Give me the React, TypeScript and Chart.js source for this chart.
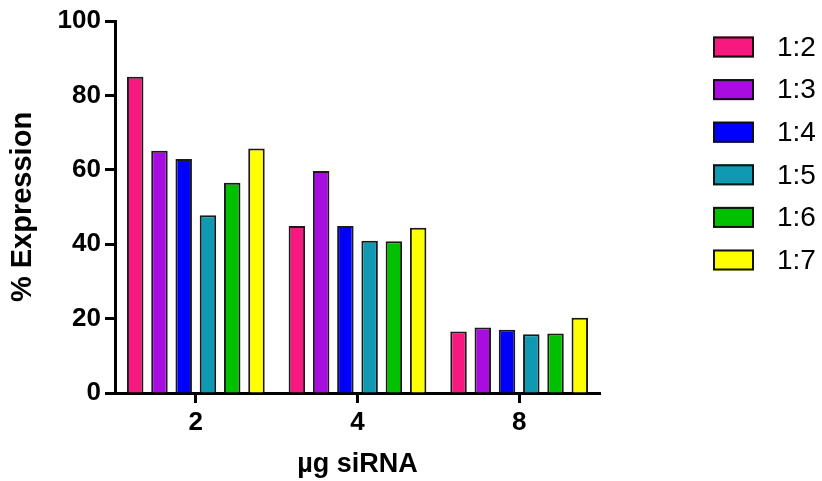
import React, { useEffect, useRef } from "react";
import { Chart, registerables } from "chart.js";

Chart.register(...registerables);

const categories = ["2", "4", "8"];
const seriesLabels = ["1:2", "1:3", "1:4", "1:5", "1:6", "1:7"];
const s12 = [85.0, 44.9, 16.5];
const s13 = [65.1, 59.7, 17.6];
const s14 = [62.9, 44.9, 17.0];
const s15 = [47.8, 40.9, 15.8];
const s16 = [56.5, 40.8, 16.0];
const s17 = [65.7, 44.4, 20.2];
const seriesValues = [s12, s13, s14, s15, s16, s17];
const seriesColors = ["#F7197F", "#A80CE0", "#0000FF", "#1099B3", "#00C000", "#FFFF00"];
const yTicks = [0, 20, 40, 60, 80, 100];

const legendPlugin = {
  id: "customLegend",
  afterDraw(chart: any) {
    const ctx = chart.ctx;
    ctx.save();
    chart.data.datasets.forEach((ds: any, i: number) => {
      const cy = 47 + i * 42.6;
      ctx.fillStyle = ds.backgroundColor;
      ctx.fillRect(713, cy - 10.5, 41, 21);
      ctx.lineWidth = 2;
      ctx.strokeStyle = "#111";
      ctx.strokeRect(714, cy - 9.5, 39, 19);
      ctx.fillStyle = "#000";
      ctx.font = "28px 'Liberation Sans', Arial, sans-serif";
      ctx.textBaseline = "middle";
      ctx.textAlign = "left";
      ctx.fillText(ds.label, 777, cy + 1);
    });
    ctx.restore();
  },
};

export default function App() {
  const ref = useRef<HTMLCanvasElement | null>(null);
  useEffect(() => {
    document.body.style.margin = "0";
    const canvas = ref.current!;
    const chart = new Chart(canvas, {
      type: "bar",
      data: {
        labels: categories,
        datasets: seriesLabels.map((l, i) => ({
          label: l,
          data: seriesValues[i],
          backgroundColor: seriesColors[i],
          borderColor: "#1a1a1a",
          borderWidth: 2,
          categoryPercentage: 0.9,
          barPercentage: 0.68,
        })),
      },
      options: {
        animation: false,
        responsive: false,
        devicePixelRatio: 1,
        layout: { padding: { top: 21, right: 222, bottom: 0, left: 0 } },
        plugins: { legend: { display: false }, tooltip: { enabled: false } },
        scales: {
          x: {
            afterFit: (s: any) => { s.height = 88; },
            border: { display: true, color: "#000", width: 3 },
            grid: { drawOnChartArea: false, drawTicks: true, tickLength: 10, tickWidth: 3, tickColor: "#000", offset: false },
            ticks: { color: "#000", padding: 4, font: { family: "'Liberation Sans', Arial, sans-serif", size: 26, weight: "bold" } },
            title: { display: true, text: "µg siRNA", color: "#000", padding: { top: 0, bottom: 0 }, font: { family: "'Liberation Sans', Arial, sans-serif", size: 27, weight: "bold" } },
          },
          y: {
            min: 0,
            max: 100,
            afterFit: (s: any) => { s.width = 115; },
            afterBuildTicks: (s: any) => { s.ticks = yTicks.map((v) => ({ value: v })); },
            border: { display: true, color: "#000", width: 3 },
            grid: { drawOnChartArea: false, drawTicks: true, tickLength: 10, tickWidth: 3, tickColor: "#000" },
            ticks: { color: "#000", padding: 4, font: { family: "'Liberation Sans', Arial, sans-serif", size: 26, weight: "bold" } },
            title: { display: true, text: "% Expression", color: "#000", padding: { top: 6, bottom: 0 }, font: { family: "'Liberation Sans', Arial, sans-serif", size: 29, weight: "bold" } },
          },
        },
      },
      plugins: [legendPlugin],
    } as any);
    return () => chart.destroy();
  }, []);
  return (
    <div style={{ width: 822, height: 481 }}>
      <canvas ref={ref} width={822} height={481} style={{ display: "block" }} />
    </div>
  );
}
